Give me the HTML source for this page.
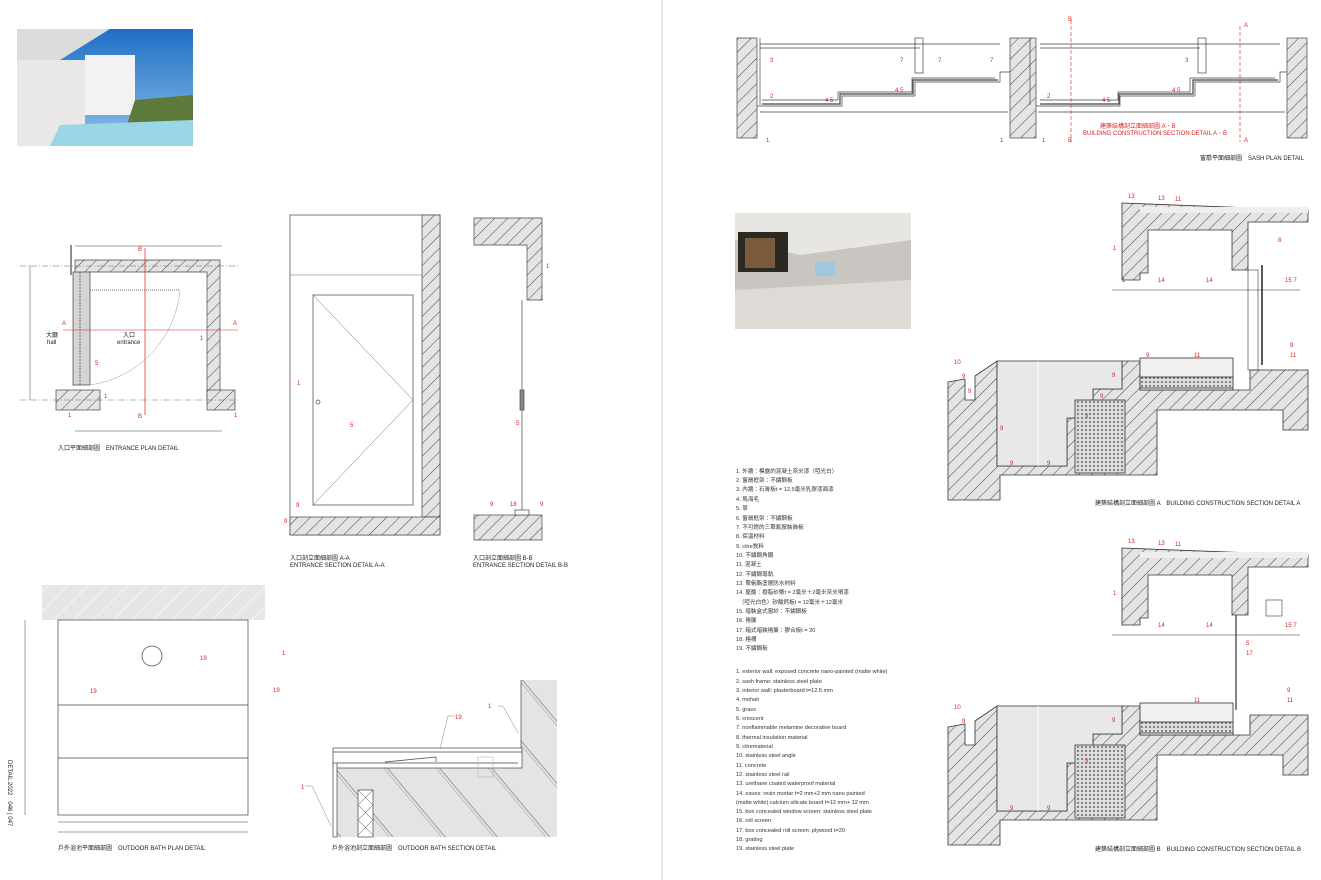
<!DOCTYPE html>
<html><head><meta charset="utf-8"><style>
body{margin:0;background:#fff;}
svg{display:block;font-family:"Liberation Sans","Noto Sans CJK TC",sans-serif;}
.t{font-size:6px;fill:#222;}
.r{font-size:6px;fill:#d22;}
.l{font-size:5.6px;fill:#333;}
</style></head><body>
<svg width="1321" height="880" viewBox="0 0 1321 880" xmlns="http://www.w3.org/2000/svg">
<defs>
<pattern id="h" width="9" height="9" patternUnits="userSpaceOnUse" patternTransform="rotate(45)">
<rect width="9" height="9" fill="#e4e4e4"/><line x1="0" y1="0" x2="0" y2="9" stroke="#444" stroke-width="1"/></pattern>
<pattern id="g" width="14" height="14" patternUnits="userSpaceOnUse" patternTransform="rotate(45)">
<rect width="14" height="14" fill="#e6e6e6"/><line x1="0" y1="0" x2="0" y2="14" stroke="#fff" stroke-width="1.2"/></pattern>
<pattern id="g2" width="40" height="40" patternUnits="userSpaceOnUse" patternTransform="rotate(-40)">
<rect width="40" height="40" fill="#e4e4e4"/><line x1="0" y1="0" x2="0" y2="40" stroke="#555" stroke-width="0.5"/><line x1="3" y1="0" x2="3" y2="40" stroke="#555" stroke-width="0.5"/></pattern>
<pattern id="d" width="4" height="4" patternUnits="userSpaceOnUse">
<rect width="4" height="4" fill="#ddd"/><circle cx="2" cy="2" r="0.9" fill="#444"/></pattern>
<linearGradient id="sky" x1="0" y1="0" x2="0" y2="1"><stop offset="0" stop-color="#1f6fc4"/><stop offset="1" stop-color="#8fc0ea"/></linearGradient>
</defs>
<rect width="1321" height="880" fill="#fff"/>
<line x1="662" y1="0" x2="662" y2="880" stroke="#ccc" stroke-width="1"/>

<!-- photo 1 -->
<rect x="17" y="29" width="176" height="117" fill="url(#sky)"/>
<polygon points="17,29 110,29 60,60 17,70" fill="#dcdcdc"/>
<rect x="85" y="55" width="50" height="60" fill="#f2f2f2"/>
<rect x="17" y="60" width="68" height="86" fill="#e8e8e8"/>
<polygon points="135,100 193,95 193,146 120,146" fill="#5c7a3a"/>
<polygon points="60,125 193,120 193,146 50,146" fill="#9ad6e6"/>

<!-- photo 2 -->
<rect x="735" y="213" width="176" height="116" fill="#c9c6c2"/>
<polygon points="735,213 911,213 911,240 800,255 735,240" fill="#e8e6e3"/>
<rect x="738" y="232" width="50" height="40" fill="#2a2a22"/>
<rect x="745" y="238" width="30" height="30" fill="#7a5a3a"/>
<polygon points="735,290 911,280 911,329 735,329" fill="#dedbd6"/>
<rect x="815" y="262" width="20" height="14" fill="#9fc7de"/>

<!-- sash plan -->
<g stroke="#444" stroke-width="0.7" fill="none">
<rect x="737" y="38" width="20" height="100" fill="url(#h)"/>
<rect x="1010" y="38" width="26" height="100" fill="url(#h)"/>
<rect x="1287" y="38" width="20" height="100" fill="url(#h)"/>
<line x1="760" y1="38" x2="760" y2="105"/><line x1="1030" y1="38" x2="1030" y2="105"/>
<path d="M757 106 H842 V96 H915 V82 H1000 V72 H1010"/>
<path d="M762 100 H838 V92 H912 V78 H995"/>
<path d="M762 104 H840 V94 H913 V80 H998" stroke-width="1.2"/>
<path d="M1036 106 H1120 V96 H1195 V82 H1280 V72 H1287"/>
<path d="M1040 100 H1118 V92 H1190 V78 H1275"/>
<path d="M1040 104 H1119 V94 H1193 V80 H1278" stroke-width="1.2"/>
<path d="M760 112 H1008 M1038 112 H1285"/>
<path d="M760 44 H1000 M1040 44 H1280 M760 48 H920 M1040 48 H1200"/>
<rect x="915" y="38" width="8" height="35"/><rect x="1198" y="38" width="8" height="35"/>
</g>
<g stroke="#d22" stroke-width="0.6" stroke-dasharray="4 2"><line x1="1071" y1="20" x2="1071" y2="142"/><line x1="1240" y1="26" x2="1240" y2="142"/></g>
<text x="1068" y="21" class="r">B</text><text x="1068" y="142" class="r">B</text>
<text x="1244" y="27" class="r">A</text><text x="1244" y="142" class="r">A</text>
<text x="1100" y="128" class="r">建築結構剖立面細部圖 A、B</text>
<text x="1083" y="135" class="r">BUILDING CONSTRUCTION SECTION DETAIL A、B</text>
<text x="766" y="142" class="r">1</text><text x="1000" y="142" class="r">1</text><text x="1042" y="142" class="r">1</text>
<text x="770" y="62" class="r">3</text><text x="1185" y="62" class="r">3</text>
<text x="770" y="98" class="r">2</text><text x="1047" y="98" class="r">2</text>
<text x="825" y="102" class="r">4 5</text><text x="895" y="92" class="r">4 5</text>
<text x="1102" y="102" class="r">4 5</text><text x="1172" y="92" class="r">4 5</text>
<text x="900" y="62" class="r">7</text><text x="938" y="62" class="r">7</text><text x="990" y="62" class="r">7</text>
<text x="1200" y="160" class="t">窗扇平面細部圖　SASH PLAN DETAIL</text>

<!-- section A -->
<g stroke="#333" stroke-width="0.8">
<path d="M1122 203 L1308 210 V222 H1248 V270 H1232 V230 H1148 V273 H1140 V280 H1122 Z" fill="url(#h)"/>
<rect x="1140" y="207" width="168" height="6" fill="#eee" stroke="none"/>
<line x1="1112" y1="290" x2="1300" y2="290" stroke-width="0.5"/>
<path d="M948 382 L965 379 V400 H975 V376 L997 361 V466 H1067 V418 H1093 V389 H1122 V361 H1140 V390 H1250 V370 H1308 V430 H1283 V410 H1157 V475 H1000 V500 H948 Z" fill="url(#h)"/>
<path d="M997 361 H1122 V389 H1093 V418 H1067 V466 H997 Z" fill="#e8e8e8"/>
<line x1="1038" y1="361" x2="1038" y2="466" stroke="#fff"/>
<rect x="1075" y="400" width="50" height="73" fill="url(#d)"/>
<rect x="1140" y="358" width="93" height="32" fill="#f0f0f0"/>
<rect x="1140" y="377" width="93" height="11" fill="url(#d)"/>
<rect x="1248" y="270" width="10" height="100" fill="none" stroke-width="0.6"/>
<line x1="1262" y1="265" x2="1262" y2="365" stroke-width="1.6"/>
</g>
<text x="1128" y="198" class="r">13</text><text x="1158" y="200" class="r">13</text><text x="1175" y="201" class="r">11</text>
<text x="1113" y="250" class="r">1</text><text x="1278" y="242" class="r">8</text>
<text x="1122" y="282" class="r">1</text><text x="1158" y="282" class="r">14</text><text x="1206" y="282" class="r">14</text>
<text x="1285" y="282" class="r">15 7</text>
<text x="954" y="364" class="r">10</text><text x="1194" y="357" class="r">11</text><text x="1146" y="357" class="r">9</text>
<text x="1290" y="347" class="r">9</text><text x="1290" y="357" class="r">11</text>
<text x="1112" y="377" class="r">9</text><text x="1100" y="398" class="r">9</text><text x="1085" y="418" class="r">9</text>
<text x="1000" y="430" class="r">9</text><text x="1010" y="465" class="r">9</text><text x="1047" y="465" class="r">9</text>
<text x="962" y="378" class="r">9</text><text x="968" y="393" class="r">9</text>
<text x="1095" y="505" class="t">建築結構剖立面細部圖 A　BUILDING CONSTRUCTION SECTION DETAIL A</text>

<!-- section B -->
<g transform="translate(0,345)">
<g stroke="#333" stroke-width="0.8">
<path d="M1122 203 L1308 210 V222 H1248 V270 H1232 V230 H1148 V273 H1140 V280 H1122 Z" fill="url(#h)"/>
<rect x="1140" y="207" width="168" height="6" fill="#eee" stroke="none"/>
<line x1="1112" y1="290" x2="1300" y2="290" stroke-width="0.5"/>
<path d="M948 382 L965 379 V400 H975 V376 L997 361 V466 H1067 V418 H1093 V389 H1122 V361 H1140 V390 H1250 V370 H1308 V430 H1283 V410 H1157 V475 H1000 V500 H948 Z" fill="url(#h)"/>
<path d="M997 361 H1122 V389 H1093 V418 H1067 V466 H997 Z" fill="#e8e8e8"/>
<line x1="1038" y1="361" x2="1038" y2="466" stroke="#fff"/>
<rect x="1075" y="400" width="50" height="73" fill="url(#d)"/>
<rect x="1140" y="358" width="93" height="32" fill="#f0f0f0"/>
<rect x="1140" y="377" width="93" height="11" fill="url(#d)"/>
<rect x="1266" y="255" width="16" height="16" fill="#fff" stroke-width="0.6"/>
<line x1="1236" y1="270" x2="1236" y2="365" stroke-width="1.2"/>
</g>
<text x="1128" y="198" class="r">13</text><text x="1158" y="200" class="r">13</text><text x="1175" y="201" class="r">11</text>
<text x="1113" y="250" class="r">1</text><text x="1158" y="282" class="r">14</text><text x="1206" y="282" class="r">14</text>
<text x="1285" y="282" class="r">15 7</text>
<text x="1246" y="300" class="r">5</text><text x="1246" y="310" class="r">17</text>
<text x="954" y="364" class="r">10</text><text x="1194" y="357" class="r">11</text>
<text x="1287" y="347" class="r">9</text><text x="1287" y="357" class="r">11</text>
<text x="1112" y="377" class="r">9</text><text x="1085" y="418" class="r">9</text>
<text x="1010" y="465" class="r">9</text><text x="1047" y="465" class="r">9</text>
<text x="962" y="378" class="r">9</text>
</g>
<text x="1095" y="851" class="t">建築結構剖立面細部圖 B　BUILDING CONSTRUCTION SECTION DETAIL B</text>

<!-- legend -->
<g class="l">
<text x="736" y="473">1. 外牆：模露的混凝土奈米漆（啞光白）</text>
<text x="736" y="482">2. 窗扇框架：不鏽鋼板</text>
<text x="736" y="491">3. 內牆：石膏板t = 12.5毫米乳膠漆面漆</text>
<text x="736" y="501">4. 馬海毛</text>
<text x="736" y="510">5. 草</text>
<text x="736" y="520">6. 窗扇框架：不鏽鋼板</text>
<text x="736" y="529">7. 不可燃的三聚氰胺裝飾板</text>
<text x="736" y="538">8. 保溫材料</text>
<text x="736" y="548">9. citre質料</text>
<text x="736" y="557">10. 不鏽鋼角鋼</text>
<text x="736" y="566">11. 混凝土</text>
<text x="736" y="576">12. 不鏽鋼導軌</text>
<text x="736" y="585">13. 聚氨酯塗層防水材料</text>
<text x="736" y="594">14. 屋簷：樹脂砂漿t = 2毫米＋2毫米奈米噴漆</text>
<text x="736" y="604">　（啞光白色）矽酸鈣板t = 12毫米＋12毫米</text>
<text x="736" y="613">15. 暗裝盒式窗紗：不鏽鋼板</text>
<text x="736" y="622">16. 捲簾</text>
<text x="736" y="632">17. 箱式暗裝捲簾：膠合板t = 20</text>
<text x="736" y="641">18. 格柵</text>
<text x="736" y="650">19. 不鏽鋼板</text>
<text x="736" y="673">1. exterior wall: exposed concrete nano-painted (matte white)</text>
<text x="736" y="683">2. sash frame: stainless steel plate</text>
<text x="736" y="692">3. interior wall: plasterboard t=12.5 mm</text>
<text x="736" y="701">4. mohair</text>
<text x="736" y="711">5. grass</text>
<text x="736" y="720">6. crescent</text>
<text x="736" y="729">7. nonflammable melamine decorative board</text>
<text x="736" y="739">8. thermal insulation material</text>
<text x="736" y="748">9. citrematerial</text>
<text x="736" y="757">10. stainless steel angle</text>
<text x="736" y="767">11. concrete</text>
<text x="736" y="776">12. stainless steel rail</text>
<text x="736" y="785">13. urethane coated waterproof material</text>
<text x="736" y="795">14. eaves: resin mortar t=2 mm+2 mm nano painted</text>
<text x="736" y="804">(matte white) calcium silicate board t=12 mm+ 12 mm</text>
<text x="736" y="813">15. box concealed window screen: stainless steel plate</text>
<text x="736" y="822">16. roll screen</text>
<text x="736" y="832">17. box concealed roll screen: plywood t=20</text>
<text x="736" y="841">18. grating</text>
<text x="736" y="850">19. stainless steel plate</text>
</g>

<!-- entrance plan -->
<g stroke="#444" stroke-width="0.7">
<path d="M75 260 H220 V400 H207 V272 H88 V275 H75 Z" fill="url(#h)"/>
<rect x="56" y="390" width="44" height="20" fill="url(#h)"/>
<rect x="207" y="390" width="28" height="20" fill="url(#h)"/>
<rect x="73" y="272" width="17" height="113" fill="#d4d4d4"/>
<line x1="80" y1="272" x2="80" y2="385" stroke-dasharray="2 1"/>
<line x1="71" y1="245" x2="71" y2="275" stroke-width="1.2"/>
<line x1="75" y1="246" x2="222" y2="246" stroke-width="0.5"/><line x1="75" y1="431" x2="222" y2="431" stroke-width="0.5"/>
<line x1="30" y1="265" x2="30" y2="400" stroke-width="0.5"/>
<line x1="20" y1="400" x2="240" y2="400" stroke-width="0.4" stroke-dasharray="6 2 1 2"/>
<line x1="20" y1="266" x2="240" y2="266" stroke-width="0.4" stroke-dasharray="6 2 1 2"/>
<path d="M90 385 A105 105 0 0 0 180 290" fill="none" stroke="#999" stroke-width="0.5"/>
<line x1="90" y1="290" x2="180" y2="290" stroke-dasharray="1 1"/>
</g>
<line x1="145" y1="248" x2="145" y2="415" stroke="#d22" stroke-width="0.7"/>
<line x1="63" y1="330" x2="238" y2="330" stroke="#d22" stroke-width="0.6"/>
<text x="138" y="251" class="r">B</text><text x="138" y="418" class="r">B</text><text x="62" y="325" class="r">A</text><text x="233" y="325" class="r">A</text>
<text x="123" y="337" class="t">入口</text><text x="117" y="344" class="t">entrance</text>
<text x="46" y="337" class="t">大廳</text><text x="47" y="344" class="t">hall</text>
<text x="95" y="365" class="r">5</text><text x="200" y="340" class="r">1</text><text x="104" y="398" class="r">1</text>
<text x="68" y="417" class="r">1</text><text x="234" y="417" class="r">1</text>
<text x="58" y="450" class="t">入口平面細部圖　ENTRANCE PLAN DETAIL</text>

<!-- section A-A -->
<g stroke="#444" stroke-width="0.7">
<rect x="290" y="215" width="150" height="320" fill="none"/>
<rect x="422" y="215" width="18" height="302" fill="url(#h)"/>
<rect x="290" y="517" width="150" height="18" fill="url(#h)"/>
<rect x="313" y="295" width="100" height="210" fill="#fff"/>
<path d="M313 295 L413 400 L313 505" fill="none" stroke-width="0.4"/>
<line x1="290" y1="275" x2="422" y2="275" stroke-width="0.4"/>
<circle cx="318" cy="402" r="2" fill="none"/>
</g>
<text x="297" y="385" class="r">1</text><text x="350" y="427" class="r">5</text><text x="296" y="507" class="r">9</text><text x="284" y="523" class="r">9</text>
<text x="290" y="560" class="t">入口剖立面細部圖 A-A</text>
<text x="290" y="567" class="t">ENTRANCE SECTION DETAIL A-A</text>

<!-- section B-B -->
<g stroke="#444" stroke-width="0.7">
<path d="M474 218 H542 V300 H527 V245 H474 Z" fill="url(#h)"/>
<rect x="474" y="515" width="68" height="25" fill="url(#h)"/>
<line x1="522" y1="300" x2="522" y2="510"/>
<rect x="520" y="390" width="4" height="20" fill="#888"/>
<rect x="515" y="510" width="14" height="5" fill="#fff"/>
</g>
<text x="490" y="506" class="r">9</text><text x="510" y="506" class="r">18</text><text x="540" y="506" class="r">9</text>
<text x="546" y="268" class="r">1</text><text x="540" y="300" class="r">1</text><text x="516" y="425" class="r">5</text>
<text x="473" y="560" class="t">入口剖立面細部圖 B-B</text>
<text x="473" y="567" class="t">ENTRANCE SECTION DETAIL B-B</text>

<!-- outdoor bath plan -->
<g stroke="#444" stroke-width="0.7">
<rect x="42" y="585" width="223" height="35" fill="url(#g)" stroke="none"/>
<rect x="58" y="620" width="190" height="195" fill="#fff"/>
<line x1="58" y1="705" x2="248" y2="705"/><line x1="58" y1="758" x2="248" y2="758"/>
<circle cx="152" cy="656" r="10" fill="#fff"/>
<line x1="58" y1="832" x2="248" y2="832" stroke-width="0.5"/><line x1="58" y1="822" x2="248" y2="822" stroke-width="0.5"/><line x1="25" y1="620" x2="25" y2="815" stroke-width="0.5"/>
</g>
<text x="200" y="660" class="r">19</text><text x="90" y="693" class="r">19</text><text x="273" y="692" class="r">19</text><text x="282" y="655" class="r">1</text>
<text x="58" y="850" class="t">戶外浴池平面細部圖　OUTDOOR BATH PLAN DETAIL</text>

<!-- outdoor bath section -->
<g stroke="#444" stroke-width="0.7">
<path d="M521 680 H557 V837 H333 V768 H521 Z" fill="url(#g2)" stroke="none"/>
<line x1="521" y1="680" x2="521" y2="768"/>
<rect x="333" y="748" width="189" height="20" fill="#fff"/>
<line x1="333" y1="752" x2="522" y2="752"/>
<line x1="337" y1="763" x2="518" y2="763"/>
<path d="M385 762 L436 757 V762" fill="none"/>
<rect x="333" y="763" width="4" height="74" fill="#fff"/>
<rect x="358" y="790" width="15" height="47" fill="#fff"/>
<path d="M358 790 L373 805 L358 820 L373 835 M373 790 L358 805 L373 820 L358 835" fill="none" stroke-width="0.5"/>
<rect x="478" y="757" width="15" height="20" fill="none" stroke="#aaa" stroke-width="0.5"/>
<path d="M440 749 L448 716 H455 M518 733 L503 706 H498 M331 826 L312 786 H305" fill="none" stroke="#888" stroke-width="0.5"/>
</g>
<text x="455" y="719" class="r">19</text><text x="488" y="708" class="r">1</text><text x="301" y="789" class="r">1</text>
<text x="332" y="850" class="t">戶外浴池剖立面細部圖　OUTDOOR BATH SECTION DETAIL</text>

<text transform="translate(8,760) rotate(90)" class="t">DETAIL 2022　046 | 047</text>
</svg>
</body></html>
